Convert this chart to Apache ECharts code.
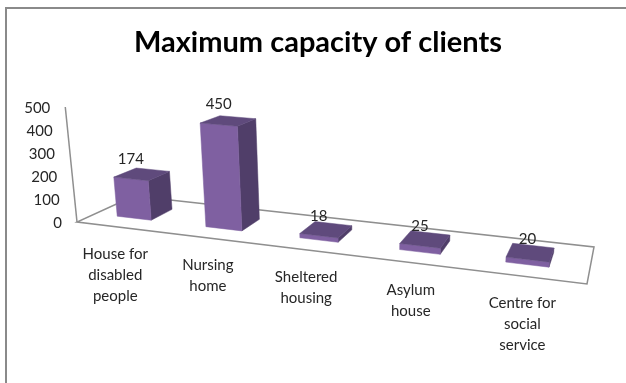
<!DOCTYPE html>
<html>
<head>
<meta charset="utf-8">
<style>html,body{margin:0;padding:0;background:#fff}#chart{width:626px;height:383px}</style>
<script src="https://cdn.jsdelivr.net/npm/echarts@6/dist/echarts.min.js"></script>
</head>
<body>
<div id="chart"></div>
<script>
const categories = ['House for\ndisabled\npeople', 'Nursing\nhome', 'Sheltered\nhousing', 'Asylum\nhouse', 'Centre for\nsocial\nservice'];
const clients = [174, 450, 18, 25, 20];
const valueTicks = [0, 100, 200, 300, 400, 500];
const chartTitle = 'Maximum capacity of clients';

// Floor of the 3D box: plot square (u, w) to screen through a homography.
const floorCorners = [[77, 222], [587, 284], [594, 247], [134, 196]];
const vanishing = [360, 3000];   // verticals converge toward this point
const heightUnit = 0.0414;       // lift factor for a full-scale value
const GRID = { left: 77, width: 510, top: 107, height: 115 };
const BAR_SHIFT = -0.01;         // columns sit slightly left of the band centre

const homography = (() => {
  const [p0, p1, p2, p3] = floorCorners;
  const dx1 = p1[0] - p2[0], dx2 = p3[0] - p2[0], sx = p0[0] - p1[0] + p2[0] - p3[0];
  const dy1 = p1[1] - p2[1], dy2 = p3[1] - p2[1], sy = p0[1] - p1[1] + p2[1] - p3[1];
  const den = dx1 * dy2 - dx2 * dy1;
  const g = (sx * dy2 - dx2 * sy) / den;
  const h = (dx1 * sy - sx * dy1) / den;
  return {
    g, h,
    a: p1[0] - p0[0] + g * p1[0], b: p3[0] - p0[0] + h * p3[0], c: p0[0],
    d: p1[1] - p0[1] + g * p1[1], e: p3[1] - p0[1] + h * p3[1], f: p0[1]
  };
})();

// u: along the category axis, w: depth, lift: 0..1 of the value axis
function project(u, w, lift) {
  const m = homography;
  const q = 1 + m.g * u + m.h * w;
  const x = (m.a * u + m.b * w + m.c) / q;
  const y = (m.d * u + m.e * w + m.f) / q;
  const t = heightUnit * (lift || 0) / q;
  return [x + (x - vanishing[0]) * t, y + (y - vanishing[1]) * t];
}

const toU = px => (px - GRID.left) / GRID.width;
const toLift = py => (GRID.top + GRID.height - py) / GRID.height;

const AXIS_COLOR = '#8f8f8f';
const TEXT_COLOR = '#262626';
const FONT = '15px Lato, "Noto Sans", sans-serif';

function polygon(points, fill) {
  return { type: 'polygon', shape: { points }, style: { fill, stroke: fill, lineWidth: 0.5 } };
}
function edge(points, width) {
  return { type: 'polyline', shape: { points }, style: { fill: 'none', stroke: AXIS_COLOR, lineWidth: width } };
}

const renderFloor = () => ({
  type: 'group',
  children: [
    edge([project(0, 0), project(0, 0, 1)], 1.5),
    edge([project(0, 1), project(0, 0), project(1, 0), project(1, 1), project(0, 1)], 1.5)
  ]
});

const renderBar = (params, api) => {
  const base = api.coord([api.value(0), 0]);
  const top = api.coord([api.value(0), api.value(1)]);
  const band = api.size([1, 0])[0];
  const uc = toU(base[0]) + BAR_SHIFT;
  const half = toU(GRID.left + band * 0.195);
  const u0 = uc - half, u1 = uc + half, w0 = 0.3, w1 = 0.7;
  const lift = toLift(top[1]);
  const p = (u, w, l) => project(u, w, l);
  const labelAt = p(uc, w0, lift);
  return {
    type: 'group',
    children: [
      polygon([p(u1, w0, 0), p(u1, w1, 0), p(u1, w1, lift), p(u1, w0, lift)], '#503e69'),
      polygon([p(u0, w0, 0), p(u1, w0, 0), p(u1, w0, lift), p(u0, w0, lift)], '#7f60a1'),
      polygon([p(u0, w0, lift), p(u1, w0, lift), p(u1, w1, lift), p(u0, w1, lift)], '#5f4a7c'),
      {
        type: 'text', z2: 10,
        style: {
          text: String(api.value(1)), x: labelAt[0], y: labelAt[1] - 20,
          align: 'center', verticalAlign: 'middle', font: FONT, fill: TEXT_COLOR
        }
      }
    ]
  };
};

const renderCategoryLabel = (params, api) => {
  const base = api.coord([api.value(0), 0]);
  const anchor = project(toU(base[0]), 0);
  return {
    type: 'text',
    style: {
      text: categories[params.dataIndex], x: anchor[0] - 6, y: anchor[1] + 16,
      align: 'center', verticalAlign: 'top', lineHeight: 21, font: FONT, fill: TEXT_COLOR
    }
  };
};

const renderValueTick = (params, api) => {
  const pt = api.coord([0, api.value(0)]);
  const anchor = project(0, 0, toLift(pt[1]));
  return {
    type: 'text',
    style: {
      text: String(api.value(0)), x: anchor[0] - 15, y: anchor[1] + 1,
      align: 'right', verticalAlign: 'middle', font: FONT, fill: TEXT_COLOR
    }
  };
};

const chart = echarts.init(document.getElementById('chart'), null, { renderer: 'canvas' });
chart.setOption({
  animation: false,
  backgroundColor: '#fff',
  title: {
    text: chartTitle, left: 313, textAlign: 'center', top: 23,
    textStyle: { fontFamily: 'Lato, "Noto Sans", sans-serif', fontWeight: 'bold', fontSize: 29, color: '#000' }
  },
  grid: { left: GRID.left, width: GRID.width, top: GRID.top, height: GRID.height },
  xAxis: { type: 'category', data: categories, show: false },
  yAxis: { type: 'value', min: 0, max: 500, interval: 100, show: false },
  graphic: [{
    type: 'polyline', silent: true,
    shape: { points: [[6, 383], [6, 8], [626, 8]] },
    style: { fill: 'none', stroke: '#8a8a8a', lineWidth: 2 }
  }],
  series: [
    { type: 'custom', silent: true, z: 1, coordinateSystem: 'cartesian2d', data: [[0, 0]], renderItem: renderFloor },
    {
      type: 'custom', z: 2, coordinateSystem: 'cartesian2d',
      encode: { x: 0, y: 1 },
      data: clients.map((v, i) => [i, v]), renderItem: renderBar
    },
    {
      type: 'custom', silent: true, z: 3, coordinateSystem: 'cartesian2d',
      encode: { x: 0, y: 1 },
      data: categories.map((c, i) => [i, 0]), renderItem: renderCategoryLabel
    },
    {
      type: 'custom', silent: true, z: 3, coordinateSystem: 'cartesian2d',
      encode: { y: 0 },
      data: valueTicks.map(v => [v]), renderItem: renderValueTick
    }
  ]
});
</script>
</body>
</html>
